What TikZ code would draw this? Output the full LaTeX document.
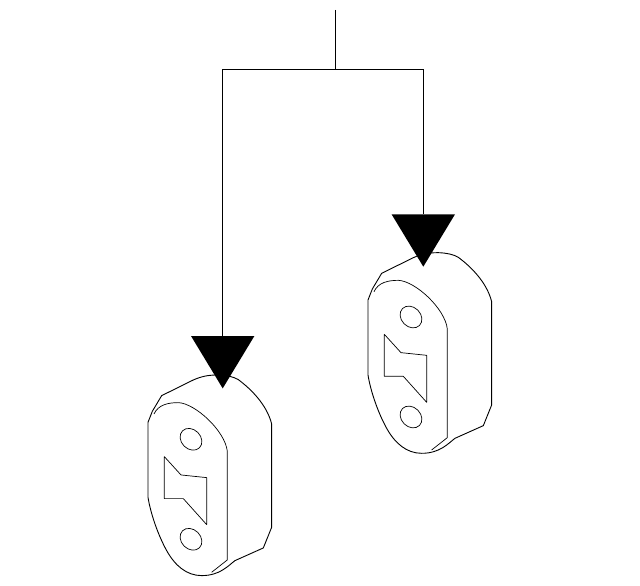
\documentclass[tikz,border=0pt]{standalone}
\tikzset{
  px/.style={x=1pt,y=-1pt},
  leader/.style={draw=black,line width=0.9pt},
  headfill/.style={fill=black,draw=none},
  partline/.style={draw=black,line width=0.9pt,line join=round},
  partthin/.style={draw=black,line width=0.7pt,line join=round},
  mount/.pic={
    % local units are 1/3 px, origin at the crop corner
    \begin{scope}[x=0.3333pt,y=-0.3333pt]
      \path[partline,fill=white] (54,285) -- (67,252) -- (95,205) -- (190,158)
        .. controls (215,147) and (235,143) .. (265,143)
        .. controls (290,144) and (310,148) .. (325,157)
        .. controls (360,183) and (410,230) .. (425,290)
        -- (425,600) -- (400,662) -- (315,700)
        .. controls (295,715) and (270,745) .. (215,745)
        .. controls (170,745) and (135,715) .. (110,670)
        .. controls (85,625) and (62,560) .. (54,510) -- cycle;
      \path[partthin] (72,260) .. controls (85,232) and (115,226) .. (145,226)
        .. controls (195,228) and (285,310) .. (292,372)
        -- (292,698) -- (245,735);
      \path[partthin] (103,388) -- (153,443) -- (230,451) -- (230,592)
        -- (160,514) -- (103,514) -- cycle;
      \path[partthin,rotate around={-45:(183,336)}] (183,336) ellipse [x radius=36,y radius=29];
      \path[partthin,rotate around={-45:(183,636)}] (183,636) ellipse [x radius=36,y radius=29];
    \end{scope}
  }
}
\begin{document}
\begin{tikzpicture}[px]
  \useasboundingbox (0,0) rectangle (640,586);
  \pic at (350,205) {mount};
  \pic at (130,327.3) {mount};
  \coordinate (top) at (335,10);
  \coordinate (junction) at (335,69.3);
  \coordinate (headR) at (423.3,214.3);
  \coordinate (headL) at (222.7,336);
  \draw[leader] (top) -- (junction);
  \draw[leader] (junction) -| (headL);
  \draw[leader] (junction) -| (headR);
  \path[headfill] (headR) ++(-31.7,0) -- ++(63.4,0) -- ++(-31.7,52.4) -- cycle;
  \path[headfill] (headL) ++(-31.7,0) -- ++(63.4,0) -- ++(-31.7,52.4) -- cycle;
\end{tikzpicture}
\end{document}
